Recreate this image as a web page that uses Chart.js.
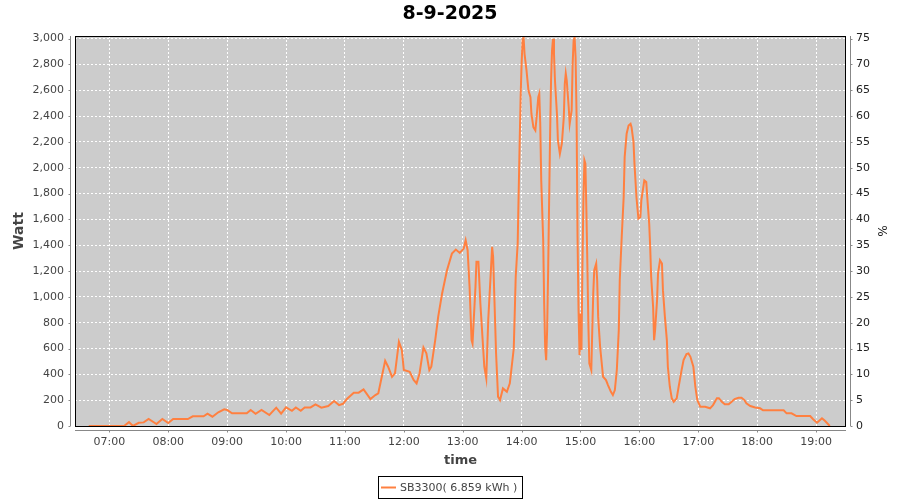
<!DOCTYPE html>
<html>
<head>
  <meta charset="UTF-8">
  <title>8-9-2025</title>
  <script src="https://cdn.jsdelivr.net/npm/chart.js"></script>
  <style>
    html, body { margin: 0; padding: 0; background: #fff; }
    canvas { display: block; }
  </style>
</head>
<body>
  <canvas id="powerChart" width="900" height="500"></canvas>

  <script>
    const chartTitle = "8-9-2025";
    const seriesLabel = "SB3300( 6.859 kWh )";
    const tickLabels = ["07:00", "08:00", "09:00", "10:00", "11:00", "12:00", "13:00",
                        "14:00", "15:00", "16:00", "17:00", "18:00", "19:00"];
    const wattTicks = [0, 200, 400, 600, 800, 1000, 1200, 1400, 1600, 1800, 2000, 2200, 2400, 2600, 2800, 3000];
    const percentTicks = [0, 5, 10, 15, 20, 25, 30, 35, 40, 45, 50, 55, 60, 65, 70, 75];

    // sample times and power (W)
    const times = [
      "06:39", "07:15", "07:20", "07:24", "07:30", "07:35", "07:40", "07:48", "07:54",
      "08:00", "08:05", "08:20", "08:25", "08:36", "08:40", "08:45", "08:51", "08:57",
      "09:00", "09:05", "09:20", "09:24", "09:29", "09:35", "09:43", "09:50", "09:55",
      "10:00", "10:06", "10:10", "10:15", "10:19", "10:25", "10:30", "10:36", "10:43", "10:49", "10:54", "10:58",
      "11:02", "11:09", "11:14", "11:19", "11:26", "11:31", "11:34", "11:36", "11:41", "11:44", "11:48", "11:51", "11:55", "11:58",
      "12:00", "12:06", "12:10", "12:13", "12:16", "12:20", "12:23", "12:26", "12:28", "12:32", "12:35", "12:39", "12:44", "12:49", "12:53", "12:57",
      "13:01", "13:03", "13:05", "13:07", "13:09", "13:10", "13:13", "13:14", "13:16", "13:18", "13:22", "13:24", "13:26", "13:30", "13:31", "13:34",
      "13:36", "13:38", "13:41", "13:45", "13:48", "13:52", "13:53", "13:54", "13:56", "13:57", "13:58", "13:59",
      "14:00", "14:01", "14:02", "14:03", "14:05", "14:07", "14:09", "14:10", "14:12", "14:14", "14:15", "14:17", "14:18", "14:19", "14:20",
      "14:22", "14:23", "14:24", "14:25", "14:26", "14:27", "14:28", "14:29", "14:30", "14:31", "14:32", "14:33", "14:34", "14:36", "14:37",
      "14:39", "14:41", "14:43", "14:44", "14:45", "14:46", "14:48", "14:49", "14:51", "14:52", "14:53", "14:54", "14:55", "14:56", "14:57", "14:58", "14:59",
      "15:00", "15:01", "15:02", "15:03", "15:04", "15:05", "15:06", "15:07", "15:08", "15:09", "15:11", "15:12", "15:13", "15:14", "15:16", "15:17",
      "15:18", "15:20", "15:22", "15:23", "15:26", "15:28", "15:31", "15:33", "15:35", "15:37", "15:39", "15:40", "15:42", "15:44", "15:45", "15:47",
      "15:49", "15:51", "15:52", "15:54", "15:55", "15:57", "15:59",
      "16:01", "16:02", "16:05", "16:07", "16:08", "16:10", "16:11", "16:12", "16:14", "16:15", "16:16", "16:18", "16:19", "16:21", "16:23", "16:24",
      "16:26", "16:28", "16:29", "16:31", "16:33", "16:35", "16:38", "16:40", "16:43", "16:45", "16:48", "16:50", "16:52", "16:55", "16:57", "16:59",
      "17:02", "17:07", "17:12", "17:15", "17:19", "17:21", "17:24", "17:27", "17:31", "17:34", "17:37", "17:41", "17:44", "17:47", "17:49", "17:53", "17:58",
      "18:03", "18:06", "18:27", "18:30", "18:35", "18:40", "18:54", "18:57",
      "19:01", "19:06", "19:09", "19:14"
    ];
    const watts = [
      0, 0, 30, 0, 25, 28, 54, 15, 54,
      23, 54, 54, 75, 75, 95, 72, 106, 129,
      124, 98, 98, 124, 95, 124, 85, 142, 95,
      144, 118, 144, 118, 144, 144, 167, 142, 155, 193, 162, 172,
      209, 258, 258, 284, 209, 240, 253, 325, 505, 459, 381, 407, 652, 588,
      433, 420, 356, 330, 407, 608, 562, 433, 459, 665, 845, 1026, 1206, 1335, 1366, 1340,
      1374, 1438, 1361, 1077, 665, 639, 1077, 1271, 1271, 949, 459, 369, 820, 1387, 1309, 562,
      227, 201, 291, 265, 330, 600, 871, 1155, 1413, 1799, 2186, 2546,
      2804, 2985, 3010, 2882, 2753, 2598, 2546, 2418, 2314, 2289, 2366, 2546, 2572, 2340, 1902,
      1438, 949, 613, 510, 742, 1181, 1722, 2237, 2675, 2907, 2998, 2882, 2675, 2418, 2211,
      2108, 2186, 2392, 2650, 2730, 2675, 2469, 2340, 2443, 2804, 2985, 3010, 2855, 2400, 1464, 900, 549,
      871, 588, 1258, 1773, 2057, 2031, 1670, 1258, 794, 485, 433, 742, 1026, 1206, 1258, 1129,
      845, 613, 459, 381, 356, 317, 265, 240, 278, 433, 742, 1129, 1464, 1773, 2082, 2263,
      2327, 2340, 2314, 2200, 2030, 1773, 1606,
      1618, 1747, 1902, 1889, 1773, 1567, 1387, 1155, 922, 665, 742, 974, 1181, 1283, 1258, 1052,
      845, 665, 459, 304, 214, 188, 214, 304, 433, 510, 557, 562, 536, 459, 304, 201,
      149, 149, 137, 162, 214, 214, 188, 168, 168, 188, 209, 219, 219, 201, 175, 155, 144,
      137, 121, 121, 98, 98, 77, 77, 52,
      26, 60, 41, 0
    ];

    const toMinutes = t => {
      const [h, m] = t.split(":").map(Number);
      return h * 60 + m;
    };
    const toLabel = v => {
      const h = Math.floor(v / 60), m = Math.round(v % 60);
      return String(h).padStart(2, "0") + ":" + String(m).padStart(2, "0");
    };

    const FONT = "DejaVu Sans";
    const LINE = "#ff8040";

    // plot background, frame, offset axis lines and boxed legend
    const framePlugin = {
      id: "frame",
      beforeDraw(chart) {
        const { ctx, chartArea: a } = chart;
        ctx.save();
        ctx.fillStyle = "#cccccc";
        ctx.fillRect(a.left, a.top, a.right - a.left, a.bottom - a.top);
        ctx.restore();
      },
      afterDatasetsDraw(chart) {
        const { ctx, chartArea: a, scales } = chart;
        ctx.save();
        ctx.strokeStyle = "#000";
        ctx.lineWidth = 1;
        ctx.strokeRect(a.left + 0.5, a.top + 0.5, a.right - a.left - 1, a.bottom - a.top);

        ctx.strokeStyle = "#888";
        ctx.beginPath();
        // left axis
        const lx = a.left - 4.5;
        ctx.moveTo(lx, a.top); ctx.lineTo(lx, a.bottom);
        scales.y.ticks.forEach(t => {
          const y = Math.round(scales.y.getPixelForValue(t.value)) + 0.5;
          ctx.moveTo(lx - 2, y); ctx.lineTo(lx, y);
        });
        // right axis
        const rx = a.right + 4.5;
        ctx.moveTo(rx, a.top); ctx.lineTo(rx, a.bottom);
        scales.y1.ticks.forEach(t => {
          const y = Math.round(scales.y1.getPixelForValue(t.value)) + 0.5;
          ctx.moveTo(rx, y); ctx.lineTo(rx + 2, y);
        });
        // bottom axis
        const by = a.bottom + 4.5;
        ctx.moveTo(a.left, by); ctx.lineTo(a.right, by);
        scales.x.ticks.forEach(t => {
          const x = Math.round(scales.x.getPixelForValue(t.value)) + 0.5;
          ctx.moveTo(x, by); ctx.lineTo(x, by + 2);
        });
        ctx.stroke();

        // legend box
        const ds = chart.data.datasets[0];
        ctx.font = "11px '" + FONT + "'";
        const tw = ctx.measureText(ds.label).width;
        const bw = Math.round(tw + 27), bh = 22;
        const bx = Math.round(450 - bw / 2) + 0.5, byy = 476.5;
        ctx.strokeStyle = "#000";
        ctx.strokeRect(bx, byy, bw, bh);
        ctx.strokeStyle = ds.borderColor;
        ctx.lineWidth = 2;
        ctx.beginPath();
        ctx.moveTo(bx + 2.5, byy + 11); ctx.lineTo(bx + 17.5, byy + 11);
        ctx.stroke();
        ctx.fillStyle = "#444";
        ctx.textBaseline = "middle";
        ctx.textAlign = "left";
        ctx.fillText(ds.label, bx + 21.5, byy + 11.5);
        ctx.restore();
      }
    };

    const ctx = document.getElementById("powerChart").getContext("2d");
    new Chart(ctx, {
      type: "line",
      data: {
        datasets: [{
          label: seriesLabel,
          data: times.map((t, i) => ({ x: toMinutes(t), y: watts[i] })),
          borderColor: LINE,
          borderWidth: 2,
          pointRadius: 0,
          tension: 0,
          yAxisID: "y"
        }]
      },
      options: {
        responsive: false,
        animation: false,
        layout: { padding: 0 },
        plugins: {
          legend: { display: false },
          tooltip: { enabled: false },
          title: {
            display: true,
            text: chartTitle,
            color: "#000",
            font: { family: FONT, size: 19, weight: "bold" },
            padding: { top: 3, bottom: 10.2 }
          }
        },
        scales: {
          x: {
            type: "linear",
            min: 385,
            max: 1170.5,
            afterFit: s => { s.height = 74; },
            afterBuildTicks: s => { s.ticks = tickLabels.map(l => ({ value: toMinutes(l) })); },
            ticks: {
              callback: v => toLabel(v),
              color: "#444",
              font: { family: FONT, size: 11 },
              padding: 10,
              maxRotation: 0,
              autoSkip: false
            },
            grid: { color: "#ffffff", lineWidth: 1, drawTicks: false },
            border: { display: false, dash: [2, 2] },
            title: {
              display: true,
              text: "time",
              color: "#444",
              font: { family: FONT, size: 13, weight: "bold" },
              padding: { top: 0, bottom: 32 }
            }
          },
          y: {
            position: "left",
            min: 0,
            max: 3020,
            afterFit: s => { s.width = 75; },
            afterBuildTicks: s => { s.ticks = wattTicks.map(v => ({ value: v })); },
            ticks: {
              callback: v => v.toLocaleString("en-US"),
              color: "#444",
              font: { family: FONT, size: 11 },
              padding: 11
            },
            grid: { color: "#ffffff", lineWidth: 1, drawTicks: false },
            border: { display: false, dash: [2, 2] },
            title: {
              display: true,
              text: "Watt",
              color: "#444",
              font: { family: FONT, size: 14, weight: "bold" },
              padding: { top: 11, bottom: 0 }
            }
          },
          y1: {
            position: "right",
            min: 0,
            max: 75.5,
            afterFit: s => { s.width = 54; },
            afterBuildTicks: s => { s.ticks = percentTicks.map(v => ({ value: v })); },
            ticks: {
              color: "#222",
              font: { family: FONT, size: 11 },
              padding: 10
            },
            grid: { drawOnChartArea: false, drawTicks: false },
            border: { display: false },
            title: {
              display: true,
              text: "%",
              color: "#222",
              font: { family: FONT, size: 12 },
              padding: { top: 12, bottom: 0 }
            }
          }
        }
      },
      plugins: [framePlugin]
    });
  </script>
</body>
</html>
